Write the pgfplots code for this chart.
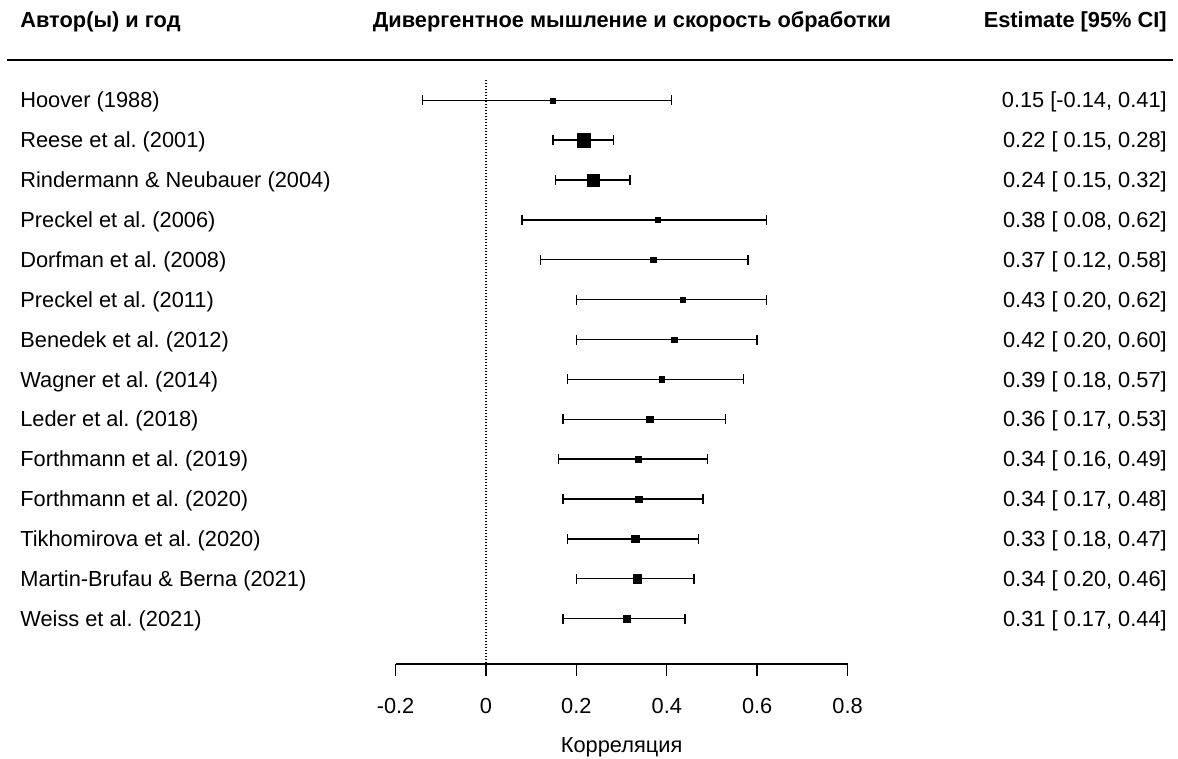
\documentclass[border=0pt]{standalone}
\usepackage{fontspec}
\setmainfont{Liberation Sans}
\usepackage{pgfplots}
\pgfplotsset{compat=1.18}
\newcommand{\fs}{\fontsize{10.9}{13}\selectfont}
\frenchspacing
\tikzset{L/.style={anchor=west, inner sep=0pt, yshift=-1pt}, R/.style={anchor=east, inner sep=0pt, yshift=-1pt}}
\begin{document}
\begin{tikzpicture}[font=\fs]
\begin{axis}[
  x=226pt, y=19.935pt,
  xmin=-0.2, xmax=0.8, ymin=-15.14, ymax=0,
  axis x line*=bottom, axis y line=none,
  xtick={-0.2,0,0.2,0.4,0.6,0.8},
  xticklabels={-0.2,0,0.2,0.4,0.6,0.8},
  tick align=outside, major tick length=6pt,
  x axis line style={line width=0.7pt},
  every tick/.style={black, line width=0.7pt},
  xticklabel style={font=\fs, yshift=-7.5pt},
  xlabel={Корреляция},
  xlabel style={font=\fs, at={(axis cs:0.3,-17.22)}, anchor=center},
  clip=false,
]
% zero line
\addplot[black, line width=0.6pt, dash pattern=on 0.75pt off 0.75pt] coordinates {(0,-0.49) (0,-15.14)};
% confidence intervals
\addplot[black, line width=0.7pt, mark=|, mark size=2.5pt, mark options={solid}] coordinates {(-0.14,-1) (0.41,-1)};
\addplot[black, line width=0.7pt, mark=|, mark size=2.5pt, mark options={solid}] coordinates {(0.148,-2) (0.282,-2)};
\addplot[black, line width=0.7pt, mark=|, mark size=2.5pt, mark options={solid}] coordinates {(0.154,-3) (0.319,-3)};
\addplot[black, line width=0.7pt, mark=|, mark size=2.5pt, mark options={solid}] coordinates {(0.08,-4) (0.62,-4)};
\addplot[black, line width=0.7pt, mark=|, mark size=2.5pt, mark options={solid}] coordinates {(0.12,-5) (0.58,-5)};
\addplot[black, line width=0.7pt, mark=|, mark size=2.5pt, mark options={solid}] coordinates {(0.20,-6) (0.62,-6)};
\addplot[black, line width=0.7pt, mark=|, mark size=2.5pt, mark options={solid}] coordinates {(0.20,-7) (0.60,-7)};
\addplot[black, line width=0.7pt, mark=|, mark size=2.5pt, mark options={solid}] coordinates {(0.18,-8) (0.57,-8)};
\addplot[black, line width=0.7pt, mark=|, mark size=2.5pt, mark options={solid}] coordinates {(0.17,-9) (0.53,-9)};
\addplot[black, line width=0.7pt, mark=|, mark size=2.5pt, mark options={solid}] coordinates {(0.16,-10) (0.49,-10)};
\addplot[black, line width=0.7pt, mark=|, mark size=2.5pt, mark options={solid}] coordinates {(0.17,-11) (0.48,-11)};
\addplot[black, line width=0.7pt, mark=|, mark size=2.5pt, mark options={solid}] coordinates {(0.18,-12) (0.47,-12)};
\addplot[black, line width=0.7pt, mark=|, mark size=2.5pt, mark options={solid}] coordinates {(0.20,-13) (0.46,-13)};
\addplot[black, line width=0.7pt, mark=|, mark size=2.5pt, mark options={solid}] coordinates {(0.17,-14) (0.44,-14)};
% point estimates
\addplot[only marks, mark=square*, black, mark options={line width=0.2pt}, mark size=1.2pt] coordinates {(0.147,-1)};
\addplot[only marks, mark=square*, black, mark options={line width=0.2pt}, mark size=3.4pt] coordinates {(0.216,-2)};
\addplot[only marks, mark=square*, black, mark options={line width=0.2pt}, mark size=3.0pt] coordinates {(0.238,-3)};
\addplot[only marks, mark=square*, black, mark options={line width=0.2pt}, mark size=1.2pt] coordinates {(0.38,-4)};
\addplot[only marks, mark=square*, black, mark options={line width=0.2pt}, mark size=1.3pt] coordinates {(0.37,-5)};
\addplot[only marks, mark=square*, black, mark options={line width=0.2pt}, mark size=1.35pt] coordinates {(0.435,-6)};
\addplot[only marks, mark=square*, black, mark options={line width=0.2pt}, mark size=1.35pt] coordinates {(0.416,-7)};
\addplot[only marks, mark=square*, black, mark options={line width=0.2pt}, mark size=1.4pt] coordinates {(0.389,-8)};
\addplot[only marks, mark=square*, black, mark options={line width=0.2pt}, mark size=1.55pt] coordinates {(0.362,-9)};
\addplot[only marks, mark=square*, black, mark options={line width=0.2pt}, mark size=1.65pt] coordinates {(0.337,-10)};
\addplot[only marks, mark=square*, black, mark options={line width=0.2pt}, mark size=1.65pt] coordinates {(0.338,-11)};
\addplot[only marks, mark=square*, black, mark options={line width=0.2pt}, mark size=1.8pt] coordinates {(0.330,-12)};
\addplot[only marks, mark=square*, black, mark options={line width=0.2pt}, mark size=2.05pt] coordinates {(0.335,-13)};
\addplot[only marks, mark=square*, black, mark options={line width=0.2pt}, mark size=1.9pt] coordinates {(0.311,-14)};
% header
\node[L, font=\fs\bfseries] at (axis cs:-1.031,1.01) {Автор(ы) и год};
\node[anchor=center, font=\fs\bfseries, yshift=-1pt] at (axis cs:0.323,1.01) {Дивергентное мышление и скорость обработки};
\node[R, font=\fs\bfseries] at (axis cs:1.507,1.01) {Estimate [95\% CI]};
\draw[line width=0.65pt] (axis cs:-1.0597,0.01) -- (axis cs:1.520,0.01);
% study labels
\node[L] at (axis cs:-1.031,-1) {Hoover (1988)};
\node[L] at (axis cs:-1.031,-2) {Reese et al. (2001)};
\node[L] at (axis cs:-1.031,-3) {Rindermann \& Neubauer (2004)};
\node[L] at (axis cs:-1.031,-4) {Preckel et al. (2006)};
\node[L] at (axis cs:-1.031,-5) {Dorfman et al. (2008)};
\node[L] at (axis cs:-1.031,-6) {Preckel et al. (2011)};
\node[L] at (axis cs:-1.031,-7) {Benedek et al. (2012)};
\node[L] at (axis cs:-1.031,-8) {Wagner et al. (2014)};
\node[L] at (axis cs:-1.031,-9) {Leder et al. (2018)};
\node[L] at (axis cs:-1.031,-10) {Forthmann et al. (2019)};
\node[L] at (axis cs:-1.031,-11) {Forthmann et al. (2020)};
\node[L] at (axis cs:-1.031,-12) {Tikhomirova et al. (2020)};
\node[L] at (axis cs:-1.031,-13) {Martin-Brufau \& Berna (2021)};
\node[L] at (axis cs:-1.031,-14) {Weiss et al. (2021)};
% estimates text
\node[R] at (axis cs:1.507,-1) {0.15 [-0.14, 0.41]};
\node[R] at (axis cs:1.507,-2) {0.22 [ 0.15, 0.28]};
\node[R] at (axis cs:1.507,-3) {0.24 [ 0.15, 0.32]};
\node[R] at (axis cs:1.507,-4) {0.38 [ 0.08, 0.62]};
\node[R] at (axis cs:1.507,-5) {0.37 [ 0.12, 0.58]};
\node[R] at (axis cs:1.507,-6) {0.43 [ 0.20, 0.62]};
\node[R] at (axis cs:1.507,-7) {0.42 [ 0.20, 0.60]};
\node[R] at (axis cs:1.507,-8) {0.39 [ 0.18, 0.57]};
\node[R] at (axis cs:1.507,-9) {0.36 [ 0.17, 0.53]};
\node[R] at (axis cs:1.507,-10) {0.34 [ 0.16, 0.49]};
\node[R] at (axis cs:1.507,-11) {0.34 [ 0.17, 0.48]};
\node[R] at (axis cs:1.507,-12) {0.33 [ 0.18, 0.47]};
\node[R] at (axis cs:1.507,-13) {0.34 [ 0.20, 0.46]};
\node[R] at (axis cs:1.507,-14) {0.31 [ 0.17, 0.44]};
\coordinate (bbl) at (axis cs:-1.0752,-17.496);
\coordinate (btr) at (axis cs:1.531,1.516);
\end{axis}
\pgfresetboundingbox
\path (bbl) rectangle (btr);
\end{tikzpicture}
\end{document}
